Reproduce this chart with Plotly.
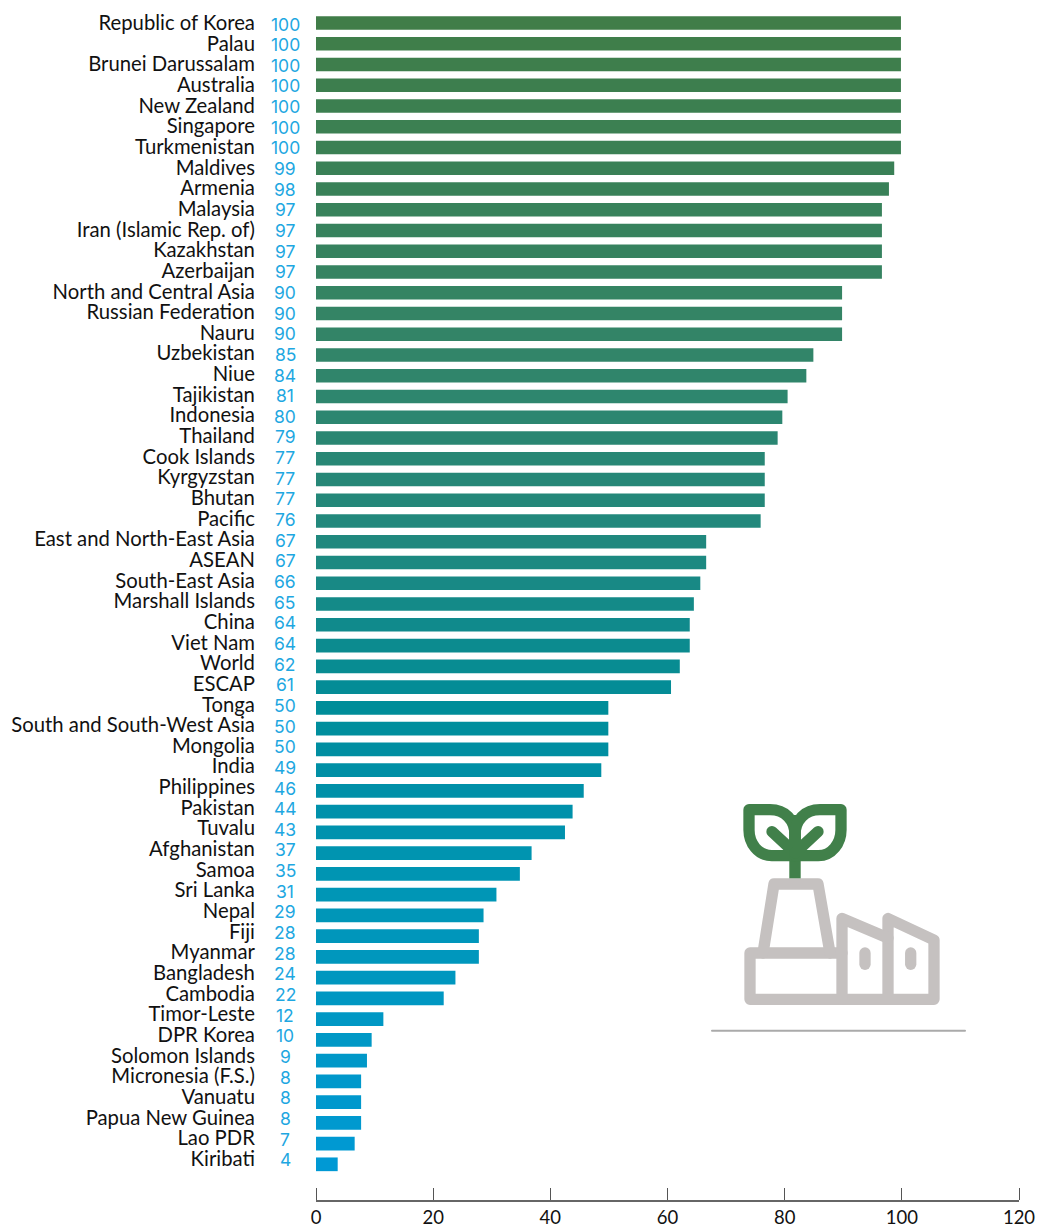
import plotly.graph_objects as go

countries = ["Republic of Korea","Palau","Brunei Darussalam","Australia","New Zealand","Singapore","Turkmenistan","Maldives","Armenia","Malaysia","Iran (Islamic Rep. of)","Kazakhstan","Azerbaijan","North and Central Asia","Russian Federation","Nauru","Uzbekistan","Niue","Tajikistan","Indonesia","Thailand","Cook Islands","Kyrgyzstan","Bhutan","Pacific","East and North-East Asia","ASEAN","South-East Asia","Marshall Islands","China","Viet Nam","World","ESCAP","Tonga","South and South-West Asia","Mongolia","India","Philippines","Pakistan","Tuvalu","Afghanistan","Samoa","Sri Lanka","Nepal","Fiji","Myanmar","Bangladesh","Cambodia","Timor-Leste","DPR Korea","Solomon Islands","Micronesia (F.S.)","Vanuatu","Papua New Guinea","Lao PDR","Kiribati"]
values = [99.85,99.85,99.85,99.85,99.85,99.85,99.85,98.7,97.8,96.6,96.6,96.6,96.6,89.8,89.8,89.8,84.9,83.7,80.5,79.6,78.8,76.6,76.6,76.6,75.9,66.6,66.6,65.6,64.5,63.8,63.8,62.1,60.6,49.9,49.9,49.9,48.7,45.7,43.8,42.5,36.8,34.8,30.8,28.6,27.8,27.8,23.8,21.8,11.5,9.5,8.7,7.7,7.7,7.7,6.6,3.7]
value_labels = [100,100,100,100,100,100,100,99,98,97,97,97,97,90,90,90,85,84,81,80,79,77,77,77,76,67,67,66,65,64,64,62,61,50,50,50,49,46,44,43,37,35,31,29,28,28,24,22,12,10,9,8,8,8,7,4]
x_ticks = [0,20,40,60,80,100,120]

W, H = 1042, 1228
L, R, AX_Y = 316, 1019, 1200

stops = [(0,(64,125,72)),(16,(50,133,105)),(25,(32,136,126)),(33,(0,141,153)),(36,(0,143,165)),(42,(0,150,182)),(55,(0,153,212))]
def ramp(i):
    for (a,ca),(b,cb) in zip(stops,stops[1:]):
        if a <= i <= b:
            t=(i-a)/(b-a)
            return "rgb(%d,%d,%d)"%tuple(round(p+(q-p)*t) for p,q in zip(ca,cb))
colors=[ramp(i) for i in range(len(countries))]

def px(x): return (x-L)/(R-L)
def py(y): return 1-y/AX_Y
def path(*cmds):
    out=[]
    for c in cmds:
        if isinstance(c,str): out.append(c)
        else: out.append("%.5f,%.5f"%(px(c[0]),py(c[1])))
    return " ".join(out)

fig = go.Figure()
fig.add_trace(go.Bar(x=values,y=countries,orientation="h",marker=dict(color=colors,line_width=0),
                     showlegend=False,hoverinfo="x+y",width=0.66))
# invisible carrier: its y axis holds the row labels, its x axis draws the upward tick marks
fig.add_trace(go.Bar(x=[0]*len(countries),y=countries,xaxis="x2",yaxis="y2",orientation="h",marker=dict(color="rgba(0,0,0,0)",line_width=0),
                     showlegend=False,hoverinfo="skip"))

annotations=[dict(text=str(v),xref="paper",x=px(285),xanchor="center",yref="y2",y=c,yanchor="middle",yshift=-1,showarrow=False,
                  font=dict(family="Inter",size=17.5,color="#1ea7e1"))
             for c,v in zip(countries,value_labels)]

GRAY="#c5c1c0"; GREEN="#41804a"
gray_line=dict(color=GRAY,width=11.3)
green_line=dict(color=GREEN,width=11.3)
def shp(d,line,**kw): return dict(type="path",xref="paper",yref="paper",path=d,line=line,layer="above",**kw)

shapes=[
 shp(path("M",(842,953),"L",(750,953),"L",(750,999.3),"L",(934,999.3),"L",(934,940),"L",(888,918.5),"L",(888,999.3)),gray_line),
 shp(path("M",(842,999.3),"L",(842,918.5),"L",(888,938)),gray_line),
 shp(path("M",(763,953),"L",(774,884),"L",(818,884),"L",(830,953)),gray_line),
 shp(path("M",(865,953),"L",(865,964.3)),gray_line),
 shp(path("M",(910.7,953),"L",(910.7,964.3)),gray_line),
 shp(path("M",(789.3,815),"L",(800.7,815),"L",(800.7,878.3),"L",(789.3,878.3),"Z"),dict(width=0),fillcolor=GREEN),
 shp(path("M",(749,809.7),"L",(770,809.7),"C",(785,809.7),(795,820),(795,835),"L",(795,855.7),"L",(771.7,855.7),"C",(758,855.7),(749,843),(749,830),"Z"),green_line),
 shp(path("M",(841,809.7),"L",(820,809.7),"C",(805,809.7),(795,820),(795,835),"L",(795,855.7),"L",(818.3,855.7),"C",(832,855.7),(841,843),(841,830),"Z"),green_line),
 shp(path("M",(772,831.7),"L",(795,853)),green_line),
 shp(path("M",(818,831.7),"L",(795,853)),green_line),
 shp(path("M",(712,1030.7),"L",(965,1030.7)),dict(color="#aaaaaa",width=2)),
]

FONT="Lato"
fig.update_layout(
    width=W,height=H,margin=dict(l=L,r=W-R,t=0,b=H-AX_Y,autoexpand=False),
    paper_bgcolor="white",plot_bgcolor="white",shapes=shapes,annotations=annotations,
    xaxis=dict(range=[0,120],tickvals=x_ticks,ticks="",
               showline=True,linecolor="#666666",linewidth=1.5,showgrid=False,zeroline=False,
               tickfont=dict(family=FONT,size=18.5,color="#111111")),
    xaxis2=dict(range=[0,120],tickvals=x_ticks,overlaying="x",side="top",anchor="free",position=0,ticks="outside",ticklen=12,
                tickcolor="#555555",tickwidth=1,showticklabels=False,showgrid=False,zeroline=False,showline=False),
    yaxis=dict(categoryorder="array",categoryarray=countries,range=[56.72,-1.108],showticklabels=False,
               showgrid=False,zeroline=False,ticks=""),
    yaxis2=dict(overlaying="y",side="left",anchor="x",categoryorder="array",categoryarray=countries,range=[57.0,-1.114],
                tickmode="array",tickvals=countries,ticktext=countries,ticks="outside",ticklen=56,tickcolor="rgba(0,0,0,0)",
                tickfont=dict(family=FONT,size=20.3,color="#111111"),showgrid=False,zeroline=False,showline=False),
    bargap=0.34,barmode="overlay",
)
round_js = """
document.body.style.margin='0';
function rj(){document.querySelectorAll('.shapelayer path').forEach(function(p){p.style.strokeLinejoin='round';p.style.strokeLinecap='round';});}
rj();setTimeout(rj,50);setTimeout(rj,500);
"""
fig.write_html("out.html",post_script=round_js,config=dict(displayModeBar=False))
